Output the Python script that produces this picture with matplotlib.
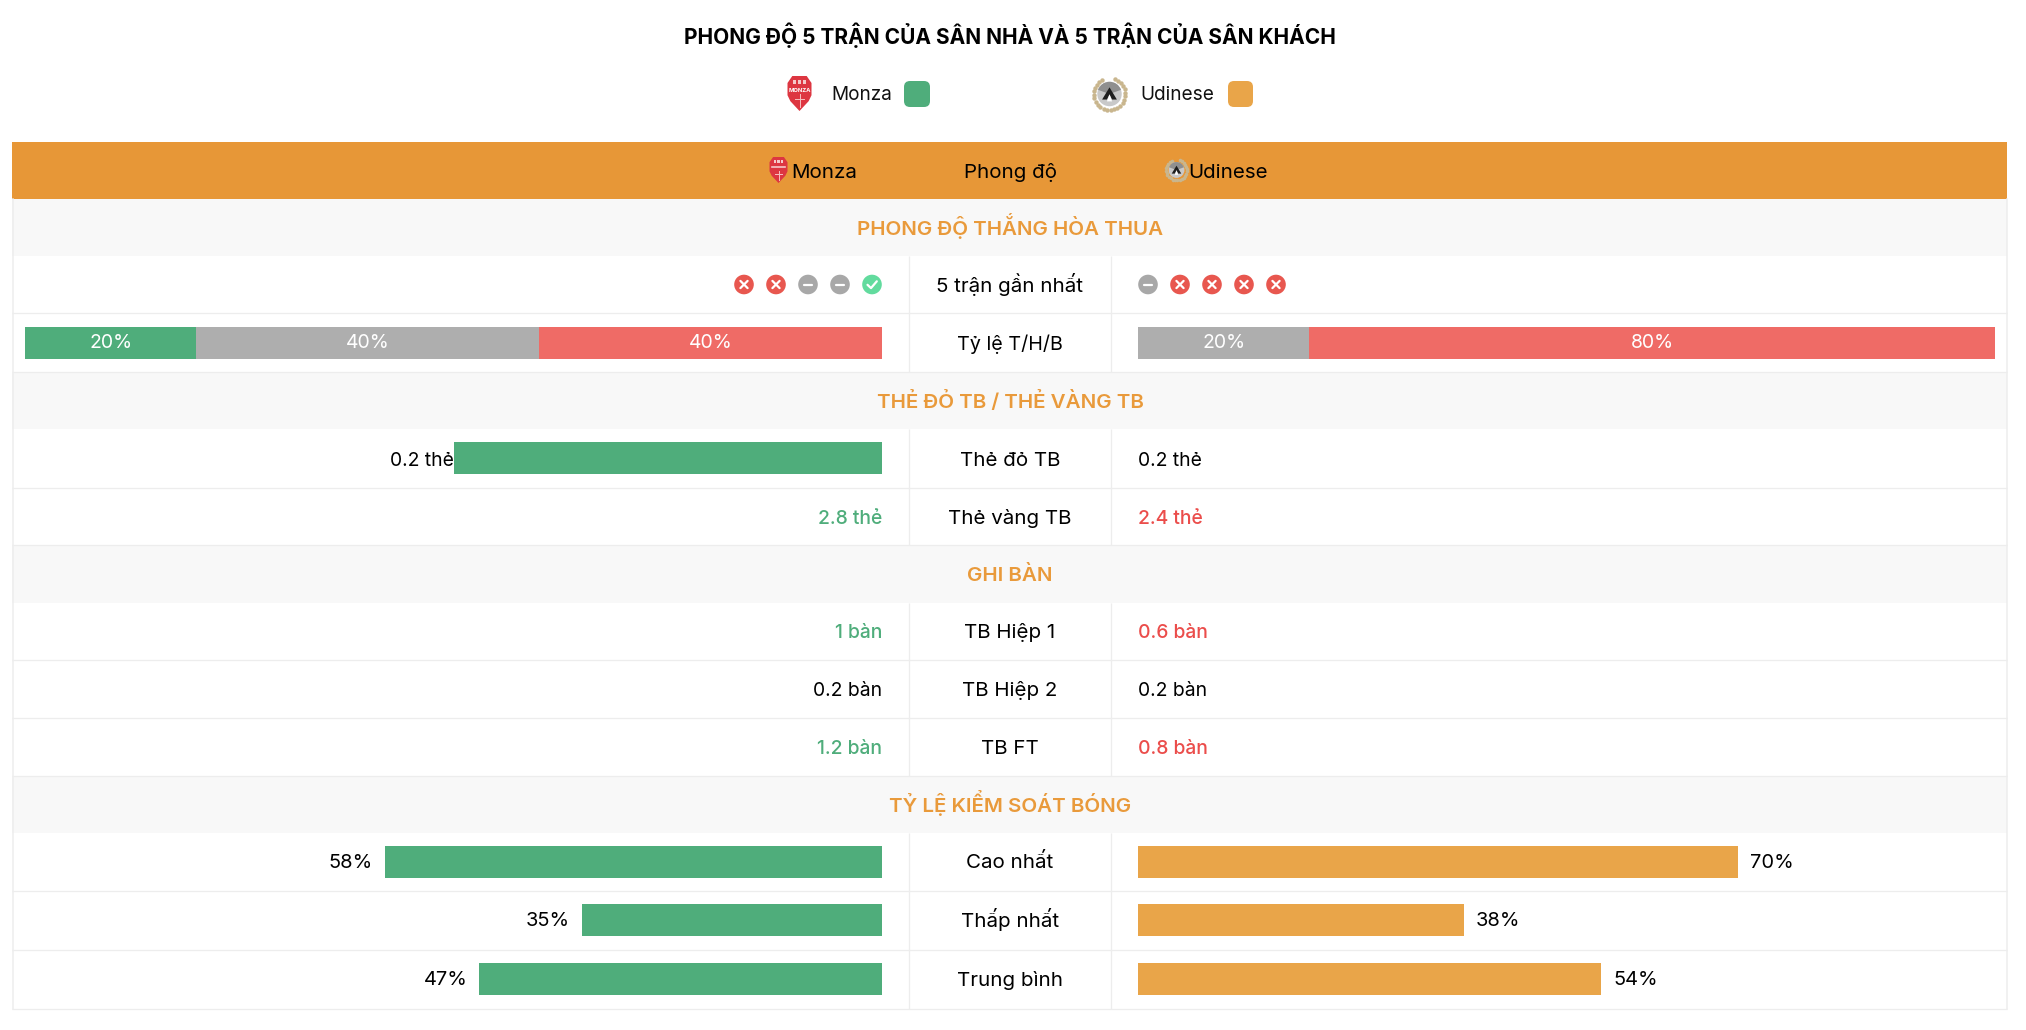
import matplotlib
matplotlib.use('Agg')
import matplotlib.pyplot as plt
import matplotlib.patches as patches
import numpy as np

plt.rcParams['font.family'] = ['Inter', 'Roboto', 'DejaVu Sans']

# --- data ---
title = 'PHONG ĐỘ 5 TRẬN CỦA SÂN NHÀ VÀ 5 TRẬN CỦA SÂN KHÁCH'
home = 'Monza'
away = 'Udinese'
header_mid = 'Phong độ'
sections = ['PHONG ĐỘ THẮNG HÒA THUA', 'THẺ ĐỎ TB / THẺ VÀNG TB', 'GHI BÀN', 'TỶ LỆ KIỂM SOÁT BÓNG']

form_home = ['L', 'L', 'D', 'D', 'W']
form_away = ['D', 'L', 'L', 'L', 'L']
ratio_home = [20, 40, 40]
ratio_away = [0, 20, 80]

card_labels = ['Thẻ đỏ TB', 'Thẻ vàng TB']
card_home = [0.2, 2.8]
card_away = [0.2, 2.4]
red_bar_home = 50   # thanh xanh cạnh 0.2 thẻ, rộng 50%

goal_labels = ['TB Hiệp 1', 'TB Hiệp 2', 'TB FT']
goal_home = [1, 0.2, 1.2]
goal_away = [0.6, 0.2, 0.8]

poss_labels = ['Cao nhất', 'Thấp nhất', 'Trung bình']
poss_home = [58, 35, 47]
poss_away = [70, 38, 54]

# --- colours ---
GREEN = '#4FAD7B'
ORANGE = '#E9A549'
HEADER = '#E79737'
SECTION_TXT = '#E99A3B'
SECTION_BG = '#F8F8F8'
GREY = '#AEAEAE'
RED = '#EF6B66'
TXT_GREEN = '#4FAD7B'
TXT_RED = '#EB4D4B'
LINE = '#EDEDED'
form_colors = {'W': '#62DB9E', 'D': '#A8A8A8', 'L': '#E8574F'}

W, H = 2026, 1030
fig = plt.figure(figsize=(W / 100, H / 100), dpi=100, facecolor='white')

# ax: nền theo pixel
ax = fig.add_axes([0, 0, 1, 1])
ax.set_xlim(0, W)
ax.set_ylim(H, 0)
ax.axis('off')

# hai trục cho các thanh, 0-100%
bar_w = 857
axL = fig.add_axes([25 / W, 0, bar_w / W, 1], facecolor='none')
axL.set_xlim(100, 0)
axL.set_ylim(H, 0)
axL.axis('off')
axR = fig.add_axes([1138 / W, 0, bar_w / W, 1], facecolor='none')
axR.set_xlim(0, 100)
axR.set_ylim(H, 0)
axR.axis('off')

# --- layout ---
tbl_l, tbl_r = 12, 2007
col1, col2 = 909, 1111
cx = 1010
sec_y = [(199, 256), (372, 429), (545, 603), (776, 833)]
row_y = [(256, 313), (313, 372), (429, 488), (488, 545), (603, 660), (660, 718),
         (718, 776), (833, 891), (891, 950), (950, 1009)]
mid = [(a + b) / 2 for a, b in row_y]
F = 14.8   # cỡ chữ nhãn giữa
V = 13.9   # cỡ chữ giá trị
BL = 7     # từ tâm hàng xuống baseline


def monza_logo(x, y, w, h):
    """Khiên đỏ Monza, x/y là tâm."""
    pts = [(-.3, -.5), (.3, -.5), (.5, -.3), (.5, .05), (.38, .22), (0, .5), (-.38, .22), (-.5, .05), (-.5, -.3)]
    ax.add_patch(patches.Polygon([(x + a * w, y + b * h) for a, b in pts], fc='#DD3641', ec='none', zorder=3))
    for a in (-.2, 0, .2):
        ax.add_patch(patches.Rectangle((x + (a - .07) * w, y - .38 * h), .14 * w, .1 * h, fc='#F4C9C9', ec='none', zorder=4))
    if w > 22:
        ax.text(x, y - .1 * h, 'MONZA', ha='center', va='center', fontsize=4.2, fontweight='bold', color='white', zorder=5)
    else:
        ax.plot([x - .36 * w, x + .36 * w], [y - .1 * h] * 2, color='#F6C8C8', lw=1.2, zorder=4)
    ax.plot([x, x], [y + .02 * h, y + .38 * h], color='#F6C0C0', lw=.7, zorder=4)
    ax.plot([x - .18 * w, x + .18 * w], [y + .16 * h] * 2, color='#F6C0C0', lw=.7, zorder=4)


def udinese_logo(x, y, r):
    """Logo tròn Udinese với vòng nguyệt quế, x/y là tâm."""
    ang = np.radians(np.arange(-70, 255, 13))
    ax.scatter(x + r * .86 * np.cos(ang), y + r * .86 * np.sin(ang), s=r * .55, c='#C9B68E', linewidths=0, zorder=3)
    ax.add_patch(patches.Circle((x, y), r * .66, fc='#C9C9C9', ec='none', zorder=3))
    ax.add_patch(patches.Wedge((x, y), r * .66, 200, 340, fc='#8F8F8F', ec='none', zorder=3))
    ax.add_patch(patches.Polygon([(x, y - r * .36), (x + r * .4, y + r * .3), (x + r * .14, y + r * .3),
                                  (x, y + r * .02), (x - r * .14, y + r * .3), (x - r * .4, y + r * .3)],
                                 fc='#1E1E1E', ec='none', zorder=4))
    ax.add_patch(patches.Polygon([(x, y + r * .02), (x + r * .14, y + r * .4), (x - r * .14, y + r * .4)],
                                 fc='white', ec='none', zorder=4))


def form_icon(x, y, kind):
    r = 9.8
    ax.add_patch(patches.Circle((x, y), r, fc=form_colors[kind], ec='none', zorder=3))
    d = 3.6
    if kind == 'L':
        ax.plot([x - d, x + d], [y - d, y + d], color='white', lw=1.6, zorder=4, solid_capstyle='round')
        ax.plot([x - d, x + d], [y + d, y - d], color='white', lw=1.6, zorder=4, solid_capstyle='round')
    elif kind == 'D':
        ax.plot([x - 4, x + 4], [y, y], color='white', lw=1.6, zorder=4, solid_capstyle='round')
    else:
        ax.plot([x - 4.5, x - 1, x + 4.8], [y + .3, y + 3.6, y - 3.2], color='white', lw=1.6, zorder=4,
                solid_capstyle='round', solid_joinstyle='round')


def compare_colors(a, b):
    if a > b:
        return TXT_GREEN, TXT_RED
    if a < b:
        return TXT_RED, TXT_GREEN
    return 'black', 'black'


def value_text(x, y, s, ha, color):
    # số màu nét đậm hơn số đen một chút
    fw = 'normal' if color == 'black' else 'medium'
    ax.text(x, y + BL, s, ha=ha, va='baseline', fontsize=V, fontweight=fw, color=color, zorder=3)


# --- title & legend ---
ax.text(cx, 43.5, title, ha='center', va='baseline', fontsize=15.05, fontweight='bold', color='black')
monza_logo(799.5, 93.5, 24, 35)
ax.text(831, 93 + BL, home, ha='left', va='baseline', fontsize=13.7, color='#111111')
ax.add_patch(patches.FancyBboxPatch((909, 86), 16, 16, boxstyle='round,pad=5,rounding_size=6', fc=GREEN, ec='none'))
udinese_logo(1109.5, 94, 18.5)
ax.text(1140.5, 93 + BL, away, ha='left', va='baseline', fontsize=13.7, color='#111111')
ax.add_patch(patches.FancyBboxPatch((1233, 86), 15, 16, boxstyle='round,pad=5,rounding_size=6', fc=ORANGE, ec='none'))

# --- header ---
ax.add_patch(patches.Rectangle((tbl_l, 142), tbl_r - tbl_l, 57, fc=HEADER, ec='none', zorder=1))
monza_logo(778.5, 170, 18, 26)
ax.text(791.5, 171 + BL, home, ha='left', va='baseline', fontsize=F, color='black', zorder=3)
ax.text(cx, 171 + BL, header_mid, ha='center', va='baseline', fontsize=F, color='black', zorder=3)
udinese_logo(1176.5, 170, 12)
ax.text(1188.5, 171 + BL, away, ha='left', va='baseline', fontsize=F, color='black', zorder=3)

# --- sections ---
for (a, b), s in zip(sec_y, sections):
    ax.add_patch(patches.Rectangle((tbl_l, a), tbl_r - tbl_l, b - a, fc=SECTION_BG, ec='none', zorder=1))
    ax.text(cx, (a + b) / 2 + 7.4, s, ha='center', va='baseline', fontsize=14.8, fontweight='semibold',
            color=SECTION_TXT, zorder=3)

# --- grid lines ---
for a, b in row_y:
    ax.plot([col1, col1], [a, b], color=LINE, lw=.95, zorder=2, solid_capstyle='butt')
    ax.plot([col2, col2], [a, b], color=LINE, lw=.95, zorder=2, solid_capstyle='butt')
    ax.plot([tbl_l, tbl_r], [b, b], color=LINE, lw=.95, zorder=2, solid_capstyle='butt')
ax.plot([tbl_l + .5, tbl_l + .5], [199, 1009], color=LINE, lw=1.1, zorder=2)
ax.plot([tbl_r, tbl_r], [199, 1009], color=LINE, lw=1.1, zorder=2)


def center_label(y, s, size=F):
    ax.text(cx, y + BL, s, ha='center', va='baseline', fontsize=size, color='black', zorder=3)


# --- 5 trận gần nhất ---
center_label(mid[0], '5 trận gần nhất')
for i, k in enumerate(form_home):
    form_icon(872 - 32 * (len(form_home) - 1 - i), mid[0], k)
for i, k in enumerate(form_away):
    form_icon(1148 + 32 * i, mid[0], k)

# --- tỷ lệ T/H/B ---
center_label(mid[1], 'Tỷ lệ T/H/B', size=14.2)
ratio_colors = [GREEN, GREY, RED]


def stacked(axis, vals, colors, y):
    left = 0
    for v, c in zip(vals, colors):
        if v > 0:
            axis.barh(y, v, left=left, height=32, color=c, linewidth=0)
            axis.text(left + v / 2, y + 5.5, f'{v}%', ha='center', va='baseline', fontsize=14, color='white')
        left += v


# trục trái đảo chiều, 0 nằm ở mép phải nên xếp ngược lại
stacked(axL, ratio_home[::-1], ratio_colors[::-1], 343)
stacked(axR, ratio_away, ratio_colors, 343)

# --- thẻ ---
center_label(mid[2], card_labels[0])
center_label(mid[3], card_labels[1])
axL.barh(458, red_bar_home, height=32, color=GREEN, linewidth=0)
value_text(453.5, mid[2], f'{card_home[0]} thẻ', 'right', 'black')
value_text(1138, mid[2], f'{card_away[0]} thẻ', 'left', 'black')
c_h, c_a = compare_colors(card_home[1], card_away[1])
value_text(882, mid[3], f'{card_home[1]} thẻ', 'right', c_h)
value_text(1138, mid[3], f'{card_away[1]} thẻ', 'left', c_a)

# --- bàn thắng ---
for i, lab in enumerate(goal_labels):
    y = mid[4 + i]
    center_label(y, lab)
    c_h, c_a = compare_colors(goal_home[i], goal_away[i])
    value_text(882, y, f'{goal_home[i]} bàn', 'right', c_h)
    value_text(1138, y, f'{goal_away[i]} bàn', 'left', c_a)

# --- kiểm soát bóng ---
for i, lab in enumerate(poss_labels):
    y = mid[7 + i]
    center_label(y - .5, lab)
    axL.barh(y - .5, poss_home[i], height=32, color=GREEN, linewidth=0)
    axR.barh(y - .5, poss_away[i], height=32, color=ORANGE, linewidth=0)
    axL.annotate(f'{poss_home[i]}%', (poss_home[i], y + 5.5), xytext=(-8.5, 0), textcoords='offset points',
                 ha='right', va='baseline', fontsize=14.4, color='black')
    axR.annotate(f'{poss_away[i]}%', (poss_away[i], y + 5.5), xytext=(9, 0), textcoords='offset points',
                 ha='left', va='baseline', fontsize=14.4, color='black')

fig.savefig('out.png', dpi=100, facecolor='white')
